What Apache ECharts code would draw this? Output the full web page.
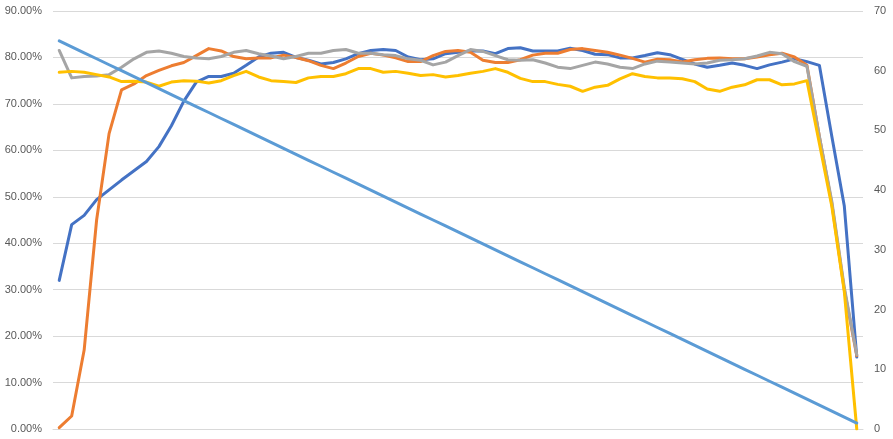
<!DOCTYPE html>
<html>
<head>
<meta charset="utf-8">
<script src="https://cdn.jsdelivr.net/npm/echarts@6/dist/echarts.min.js"></script>
<style>
  html, body { margin: 0; padding: 0; background: #fff; }
  #chart { width: 893px; height: 439px; }
</style>
</head>
<body>
<div id="chart"></div>
<script>
// 65 sample points along the x axis (no labels shown)
const categories = Array.from({ length: 65 }, (_, i) => String(i + 1))

const blueValues = [
  32.0, 44.0, 46.0, 49.4, 51.5, 53.6, 55.6, 57.6, 60.8, 65.3,
  70.6, 74.7, 75.9, 75.9, 76.6, 78.3, 80.1, 80.9, 81.1, 80.0,
  79.4, 78.6, 78.9, 79.7, 80.8, 81.5, 81.7, 81.5, 80.1, 79.5,
  79.7, 80.8, 81.1, 81.4, 81.4, 80.8, 81.9, 82.1, 81.4, 81.4,
  81.4, 82.0, 81.5, 80.7, 80.6, 79.9, 79.9, 80.4, 81.0, 80.6,
  79.6, 78.6, 77.9, 78.3, 78.8, 78.3, 77.6, 78.4, 79.0, 79.7,
  79.1, 78.3, 63.0, 48.0, 15.5
]

const orangeValues = [
  0.3, 2.8, 17.0, 45.0, 63.6, 73.0, 74.3, 76.1, 77.2, 78.2,
  78.9, 80.4, 81.9, 81.4, 80.2, 79.7, 79.9, 79.9, 80.5, 80.0,
  79.3, 78.3, 77.6, 78.8, 80.2, 80.9, 80.5, 79.9, 79.1, 79.1,
  80.4, 81.3, 81.5, 81.1, 79.4, 78.9, 78.9, 79.5, 80.5, 80.9,
  80.9, 81.7, 81.9, 81.5, 81.1, 80.5, 79.8, 79.0, 79.6, 79.5,
  79.0, 79.5, 79.8, 79.9, 79.7, 79.7, 80.1, 80.6, 80.9, 80.1,
  78.3, 63.0, 48.5, 30.0, 15.8
]

const grayValues = [
  81.5, 75.6, 75.9, 76.0, 76.3, 77.9, 79.7, 81.1, 81.4, 80.9,
  80.2, 79.9, 79.7, 80.2, 81.1, 81.5, 80.8, 80.3, 79.7, 80.2,
  80.9, 80.9, 81.5, 81.7, 80.9, 80.9, 80.6, 80.4, 79.7, 79.4,
  78.4, 79.0, 80.4, 81.7, 81.3, 80.4, 79.5, 79.4, 79.5, 78.8,
  77.9, 77.6, 78.3, 79.0, 78.6, 77.9, 77.6, 78.6, 79.2, 79.0,
  78.8, 78.6, 78.8, 79.4, 79.5, 79.7, 80.3, 81.1, 80.8, 79.1,
  78.1, 63.0, 49.0, 30.5, 16.0
]

const yellowValues = [
  76.8, 77.0, 76.8, 76.3, 75.8, 74.8, 74.9, 74.7, 73.8, 74.7,
  75.0, 74.9, 74.5, 75.0, 76.1, 77.0, 75.8, 75.0, 74.8, 74.6,
  75.6, 75.9, 75.9, 76.5, 77.6, 77.6, 76.8, 77.0, 76.6, 76.1,
  76.3, 75.8, 76.1, 76.6, 77.0, 77.6, 76.8, 75.5, 74.8, 74.8,
  74.2, 73.8, 72.7, 73.6, 74.0, 75.4, 76.5, 75.9, 75.6, 75.6,
  75.4, 74.8, 73.2, 72.7, 73.6, 74.1, 75.2, 75.2, 74.1, 74.3,
  75.0, 61.5, 47.9, 29.6, 0.0
]

// secondary axis series
const countdownValues = [
  65, 64, 63, 62, 61, 60, 59, 58, 57, 56,
  55, 54, 53, 52, 51, 50, 49, 48, 47, 46,
  45, 44, 43, 42, 41, 40, 39, 38, 37, 36,
  35, 34, 33, 32, 31, 30, 29, 28, 27, 26,
  25, 24, 23, 22, 21, 20, 19, 18, 17, 16,
  15, 14, 13, 12, 11, 10, 9, 8, 7, 6,
  5, 4, 3, 2, 1
]

const leftTicks = { min: 0, max: 90, interval: 10 }
const rightTicks = { min: 0, max: 70, interval: 10 }

const chart = echarts.init(document.getElementById('chart'))

const labelStyle = {
  color: '#595959',
  fontSize: 11,
  fontFamily: 'Liberation Sans, Arial, sans-serif'
}

const lineSeries = (name, data, color, axis) => ({
  name,
  type: 'line',
  yAxisIndex: axis,
  data,
  symbol: 'none',
  smooth: false,
  lineStyle: { color, width: 3, join: 'round', cap: 'round' },
  itemStyle: { color },
  z: 2
})

chart.setOption({
  animation: false,
  grid: { left: 53, right: 30, top: 11, bottom: 10 },
  xAxis: {
    type: 'category',
    data: categories,
    boundaryGap: true,
    axisLine: { show: true, lineStyle: { color: '#d9d9d9', width: 1 } },
    axisTick: { show: false },
    axisLabel: { show: false },
    splitLine: { show: false }
  },
  yAxis: [
    {
      type: 'value',
      ...leftTicks,
      axisLine: { show: false },
      axisTick: { show: false },
      axisLabel: {
        ...labelStyle,
        margin: 11,
        formatter: v => v.toFixed(2) + '%'
      },
      splitLine: { lineStyle: { color: '#d9d9d9', width: 1 } }
    },
    {
      type: 'value',
      ...rightTicks,
      position: 'right',
      axisLine: { show: false },
      axisTick: { show: false },
      axisLabel: { ...labelStyle, margin: 11 },
      splitLine: { show: false }
    }
  ],
  series: [
    lineSeries('Series 1', blueValues, '#4472C4', 0),
    lineSeries('Series 2', orangeValues, '#ED7D31', 0),
    lineSeries('Series 3', grayValues, '#A5A5A5', 0),
    lineSeries('Series 4', yellowValues, '#FFC000', 0),
    lineSeries('Series 5', countdownValues, '#5B9BD5', 1)
  ]
})
</script>
</body>
</html>
